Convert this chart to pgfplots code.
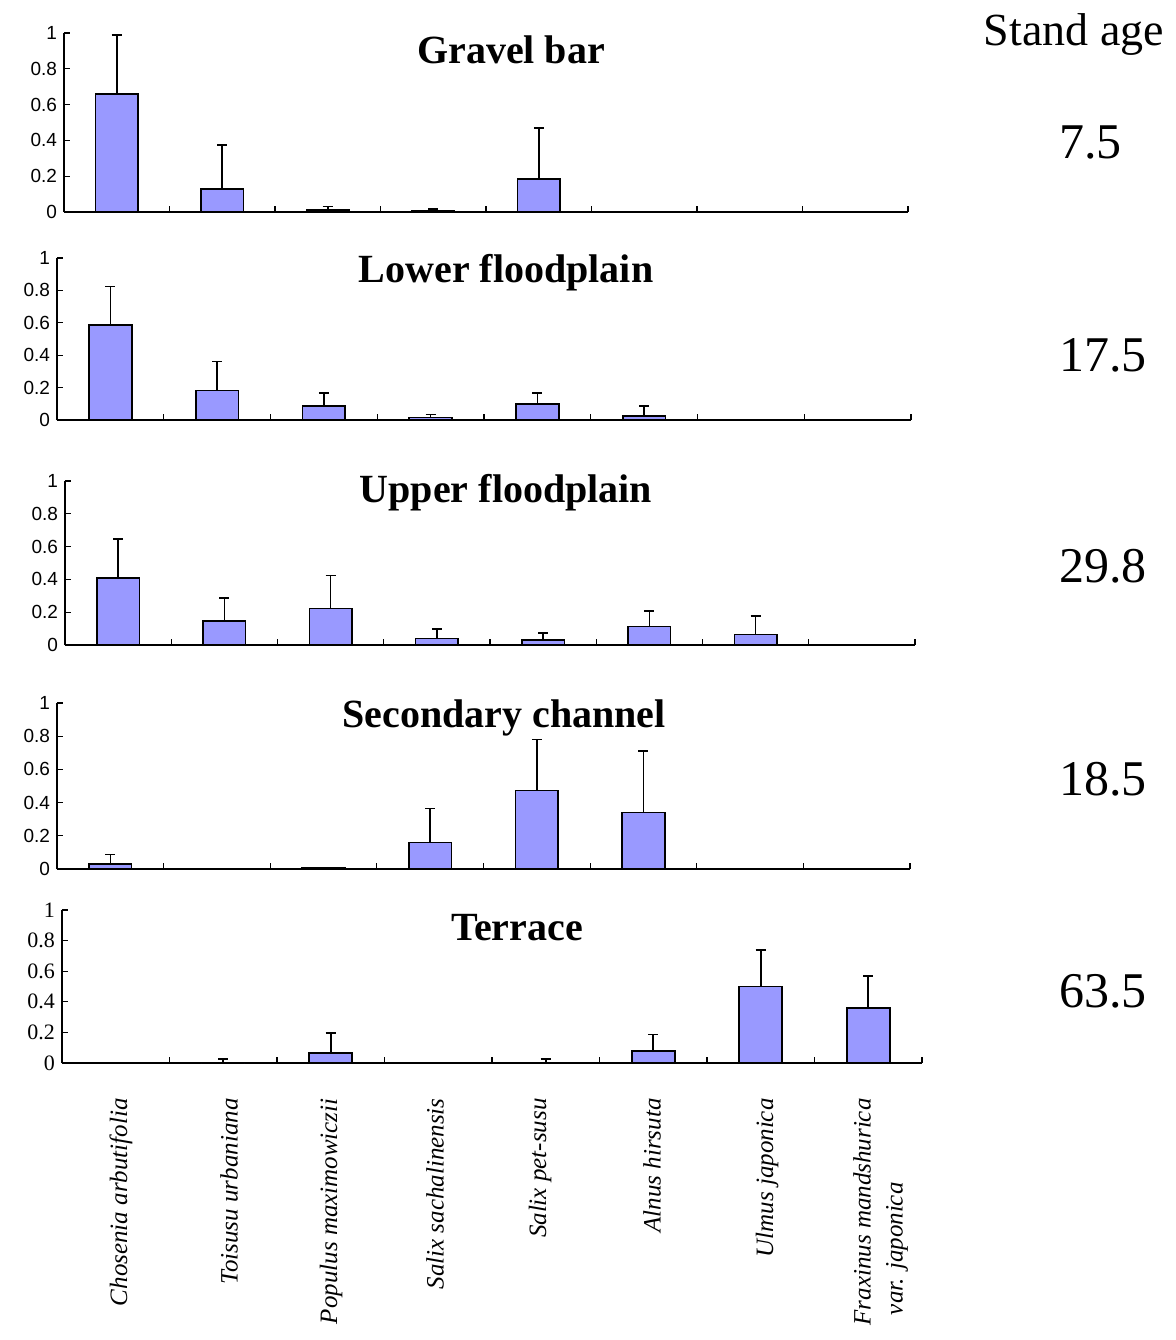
\documentclass[border=0pt]{standalone}
\usepackage{fontspec}
\setmainfont{Liberation Serif}
\newfontfamily\sansf{Liberation Sans}
\usepackage{pgfplots}
\pgfplotsset{compat=1.18}
\definecolor{barfill}{RGB}{153,153,255}

\pgfplotsset{
  panel/.style={
    scale only axis, anchor=south west,
    xmin=0.5, xmax=8.5, ymin=0, ymax=1,
    axis lines*=left,
    axis line style={line width=0.9pt},
    xtick={0.5,1.5,2.5,3.5,4.5,5.5,6.5,7.5,8.5}, xticklabels={},
    ytick={0,0.2,0.4,0.6,0.8,1}, yticklabels={0,0.2,0.4,0.6,0.8,1},
    tick align=inside, major tick length=3pt,
    tick style={line width=0.6pt, black},
    yticklabel style={font=\sansf\fontsize{9.5}{10}\selectfont},
  },
  sbar/.style={ybar, bar width=0.4, fill=barfill, draw=black, line width=0.8pt,
    error bars/.cd, y dir=plus, y explicit,
    error bar style={line width=0.8pt, black},
    error mark options={rotate=90, mark size=2.5pt, line width=0.8pt, black}},
}

\begin{document}
\begin{tikzpicture}
\path (0,0) rectangle (587.5pt,-670pt);

% Gravel bar
\begin{axis}[panel, at={(32pt,-106pt)}, width=422pt, height=89.5pt]
\addplot[sbar] coordinates {
  (1,0.66) +- (0,0.33)
  (2,0.13) +- (0,0.245)
  (3,0.01) +- (0,0.02)
  (4,0.008) +- (0,0.008)
  (5,0.185) +- (0,0.285)
};
\end{axis}

% Lower floodplain
\begin{axis}[panel, at={(28.5pt,-210pt)}, width=427pt, height=81pt]
\addplot[sbar] coordinates {
  (1,0.585) +- (0,0.24)
  (2,0.183) +- (0,0.179)
  (3,0.088) +- (0,0.079)
  (4,0.015) +- (0,0.019)
  (5,0.10) +- (0,0.067)
  (6,0.026) +- (0,0.061)
};
\end{axis}

% Upper floodplain
\begin{axis}[panel, at={(32.5pt,-322.5pt)}, width=425pt, height=82pt]
\addplot[sbar] coordinates {
  (1,0.41) +- (0,0.238)
  (2,0.148) +- (0,0.139)
  (3,0.222) +- (0,0.203)
  (4,0.04) +- (0,0.058)
  (5,0.03) +- (0,0.044)
  (6,0.112) +- (0,0.094)
  (7,0.064) +- (0,0.114)
};
\end{axis}

% Secondary channel
\begin{axis}[panel, at={(28.5pt,-434.5pt)}, width=426.5pt, height=83pt]
\addplot[sbar] coordinates {
  (1,0.03) +- (0,0.058)
  (3,0.01) +- (0,0)
  (4,0.16) +- (0,0.204)
  (5,0.474) +- (0,0.306)
  (6,0.34) +- (0,0.37)
};
\end{axis}

% Terrace
\begin{axis}[panel, at={(31pt,-531.5pt)}, width=430pt, height=76.5pt,
  yticklabel style={font=\fontsize{11}{12}\selectfont}]
\addplot[sbar] coordinates {
  (2,0) +- (0,0.027)
  (3,0.067) +- (0,0.131)
  (5,0) +- (0,0.027)
  (6,0.08) +- (0,0.107)
  (7,0.50) +- (0,0.24)
  (8,0.36) +- (0,0.21)
};
\end{axis}

% panel titles
\begin{scope}[every node/.style={font=\bfseries\fontsize{20}{24}\selectfont, anchor=base}]
\node at (255.5pt,-31.5pt) {Gravel bar};
\node at (253pt,-141pt) {Lower floodplain};
\node at (253pt,-251pt) {Upper floodplain};
\node at (252pt,-363.5pt) {Secondary channel};
\node at (258.5pt,-470pt) {Terrace};
\end{scope}

% stand age
\node[anchor=base, font=\fontsize{23}{26}\selectfont] at (537pt,-22.5pt) {Stand age};
\begin{scope}[every node/.style={anchor=base west, font=\fontsize{25}{28}\selectfont}]
\node at (526pt,-79pt) {7.5};
\node at (526pt,-185.5pt) {17.5};
\node at (526pt,-291pt) {29.8};
\node at (526pt,-397.5pt) {18.5};
\node at (526pt,-503.5pt) {63.5};
\end{scope}

% species names
\begin{scope}[every node/.style={rotate=90, anchor=east, inner sep=0pt, font=\itshape\fontsize{12.5}{14}\selectfont}]
\node at (60.5pt,-549pt) {Chosenia arbutifolia};
\node at (114.5pt,-549pt) {Toisusu urbaniana};
\node at (165.5pt,-549pt) {Populus maximowiczii};
\node at (217.5pt,-549pt) {Salix sachalinensis};
\node at (270pt,-549pt) {Salix pet-susu};
\node at (326pt,-549pt) {Alnus hirsuta};
\node at (383.5pt,-549pt) {Ulmus japonica};
\node at (431pt,-549pt) {Fraxinus mandshurica};
\node at (448.5pt,-591pt) {var. japonica};
\end{scope}
\end{tikzpicture}
\end{document}
